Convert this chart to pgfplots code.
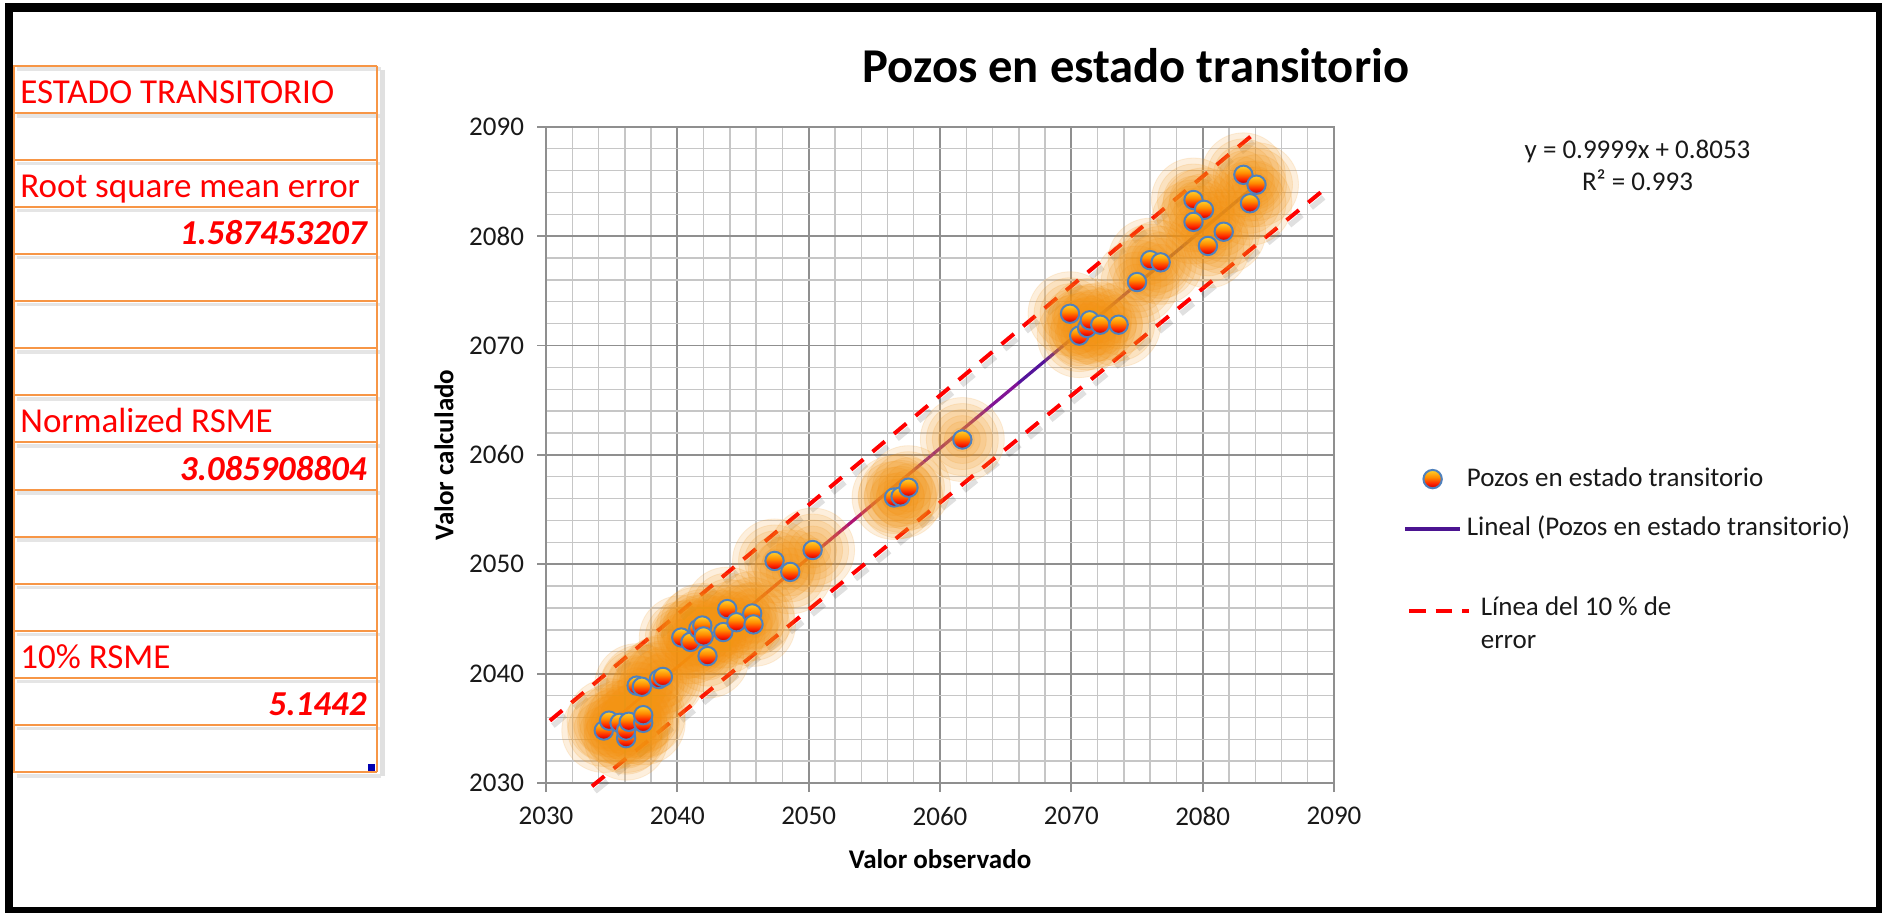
\documentclass[border=0pt]{standalone}
\usepackage{fontspec}
\setmainfont{Carlito}
\usepackage{pgfplots}
\usepackage{pgfplotstable}
\pgfplotsset{compat=1.18}

\definecolor{gridmaj}{RGB}{143,143,143}
\definecolor{gridmin}{RGB}{198,198,198}
\definecolor{glow}{RGB}{243,148,20}
\definecolor{markedge}{RGB}{79,129,189}
\definecolor{tabor}{RGB}{247,150,70}
\definecolor{errred}{RGB}{255,0,0}
\definecolor{trendpurple}{RGB}{75,20,145}
\definecolor{balldeep}{RGB}{200,0,0}
\definecolor{ballred}{RGB}{255,35,0}
\definecolor{ballorange}{RGB}{255,140,0}
\definecolor{ballyellow}{RGB}{255,205,40}
\definecolor{tr1}{RGB}{250,65,10}
\definecolor{tr2}{RGB}{225,20,50}
\definecolor{tr3}{RGB}{175,20,115}
\definecolor{tr4}{RGB}{130,20,150}
\definecolor{tr5}{RGB}{85,20,155}
\definecolor{tr6}{RGB}{40,20,140}

\pgfdeclareverticalshading{ballshade}{100bp}{%
  color(0bp)=(balldeep); color(27bp)=(balldeep); color(38bp)=(ballred);
  color(55bp)=(ballorange); color(73bp)=(ballyellow); color(100bp)=(ballyellow)}

\pgfdeclareplotmark{ball}{%
  \pgfpathcircle{\pgfpointorigin}{\pgfplotmarksize}%
  \pgfshadepath{ballshade}{0}%
  \pgfusepath{stroke}%
}

\pgfplotsset{
  ballleg/.style={legend image code/.code={%
     \path[draw=none,fill=none] (0pt,0pt) -- (27.5pt,0pt);
     \draw[##1] plot coordinates {(13.75pt,3.5pt)};}},
  lineleg/.style={legend image code/.code={%
     \draw[##1] (0pt,3.3pt) -- (27.5pt,3.3pt);}},
  dashleg/.style={legend image code/.code={%
     \path[draw=none,fill=none] (0pt,0pt) -- (27.5pt,0pt);
     \draw[##1, overlay] (2pt,2.2pt) -- (32pt,2.2pt);}},
  glowlayer/.style={only marks, mark=*, mark size=#1, forget plot,
     mark options={draw=glow, fill=glow, opacity=0.14}},
}

\pgfplotstableread{
x y
2034.4 2034.8
2034.8 2035.7
2035.6 2035.5
2036.1 2034.1
2036.1 2034.8
2036.3 2035.6
2037.4 2035.5
2037.4 2036.2
2036.9 2038.9
2037.3 2038.8
2038.6 2039.5
2038.9 2039.7
2040.3 2043.3
2041.0 2042.9
2041.6 2044.1
2041.9 2044.4
2042.0 2043.4
2042.3 2041.6
2043.5 2043.8
2043.8 2045.9
2044.5 2044.7
2045.7 2045.5
2045.8 2044.5
2047.4 2050.3
2048.6 2049.3
2050.3 2051.3
2056.5 2056.1
2057.0 2056.2
2057.6 2057.0
2061.7 2061.4
2069.9 2072.9
2070.6 2070.9
2071.2 2071.6
2071.4 2072.3
2072.2 2071.9
2073.6 2071.9
2075.0 2075.8
2076.0 2077.8
2076.8 2077.6
2079.3 2083.3
2080.1 2082.4
2079.3 2081.3
2081.6 2080.4
2080.4 2079.1
2083.1 2085.6
2084.1 2084.7
2083.6 2083.0
}\pozos

\newcommand{\chartfont}{\fontsize{13.5}{16}\selectfont}
\newcommand{\tabfont}{\fontsize{17.5}{20}\selectfont}

\begin{document}
\begin{tikzpicture}
\begin{scope}[x=0.5pt,y=-0.5pt]
  \path[use as bounding box] (0,0) rectangle (1882,913);
  \fill[white] (0,0) rectangle (1882,913);
  \fill[black] (5,3) rectangle (1882,913);
  \fill[white] (13,12.5) rectangle (1876,907);
  % table shadow
  \foreach \i in {0,...,15}{
    \draw[black!10, line width=1.8pt] (17,{65.7+47.1*\i+3.5}) -- (381,{65.7+47.1*\i+3.5});
  }
  \draw[black!12, line width=2.5pt] (382,70) -- (382,776);
  % table grid
  \foreach \i in {0,...,15}{
    \draw[tabor, line width=1pt] (13,{65.7+47.1*\i}) -- (377,{65.7+47.1*\i});
  }
  \draw[tabor, line width=1pt] (14,65.7) -- (14,772.2);
  \draw[tabor, line width=1pt] (377,65.7) -- (377,772.2);
  \fill[blue!70!black] (368,764) rectangle (375,771);
  % table texts
  \begin{scope}[every node/.style={inner sep=0pt, text=errred, font=\tabfont}]
    \node[anchor=base west] at (20,103.3) {ESTADO TRANSITORIO};
    \node[anchor=base west] at (20,197.5) {Root square mean error};
    \node[anchor=base east] at (367,244.6) {\bfseries\itshape 1.587453207};
    \node[anchor=base west] at (20,433.0) {Normalized RSME};
    \node[anchor=base east] at (367,480.1) {\bfseries\itshape 3.085908804};
    \node[anchor=base west] at (20,668.5) {10\% RSME};
    \node[anchor=base east] at (367,715.6) {\bfseries\itshape 5.1442};
  \end{scope}
  % title and equation
  \node[anchor=base, inner sep=0pt, font=\fontsize{24.3}{28}\selectfont\bfseries] at (1136,82.5) {Pozos en estado transitorio};
  \node[anchor=base, inner sep=0pt, font=\chartfont, text=black!90] at (1637.5,158.5) {y = 0.9999x + 0.8053};
  \node[anchor=base, inner sep=0pt, font=\chartfont, text=black!90] at (1637.5,190.3) {R² = 0.993};
\end{scope}

\begin{axis}[
  at={(273pt,-391.5pt)}, anchor=south west,
  scale only axis, width=394pt, height=328.15pt,
  xmin=2030, xmax=2090, ymin=2030, ymax=2090,
  xtick={2030,2040,...,2090}, ytick={2030,2040,...,2090},
  minor tick num=4,
  grid=both,
  major grid style={draw=gridmaj, line width=0.9pt},
  minor grid style={draw=gridmin, line width=0.7pt},
  axis line style={draw=gridmaj, line width=0.9pt},
  tick align=outside, tick pos=left,
  major tick length=4.5pt, minor tick length=0pt,
  major tick style={draw=gridmaj, line width=0.9pt},
  /pgf/number format/assume math mode=true,
  /pgf/number format/1000 sep={},
  tick label style={font=\chartfont, text=black!90},
  yticklabel style={xshift=-3pt},
  xticklabel style={yshift=-4pt},
  xlabel={Valor observado}, ylabel={Valor calculado},
  xlabel style={font=\chartfont\bfseries, at={(axis description cs:0.5,-0.1158)}, anchor=center},
  ylabel style={font=\chartfont\bfseries, at={(axis description cs:-0.1295,0.5)}, anchor=center},
  clip=false,
  legend style={at={(axis description cs:1.0876,0.4911)}, anchor=north west,
    draw=none, fill=none, inner sep=0pt, row sep=6.65pt, column sep=0.5pt,
    nodes={inner sep=2pt, text depth=3.5pt, font=\chartfont, text=black!90},
    cells={anchor=base west}},
]
% glow layers
\addplot[glowlayer=21pt] table {\pozos};
\addplot[glowlayer=18pt] table {\pozos};
\addplot[glowlayer=15pt] table {\pozos};
\addplot[glowlayer=12pt] table {\pozos};
\addplot[glowlayer=9pt] table {\pozos};
\addplot[glowlayer=6pt] table {\pozos};
% points
\addplot[only marks, mark=ball, mark size=4.6pt, mark options={draw=markedge, line width=1pt}, forget plot] table {\pozos};
% trend line (straight line, coloured in segments)
\addplot[forget plot, draw=tr1, line width=1.6pt, line cap=round] coordinates {(2034.4,2035.0) (2042,2042.6)};
\addplot[forget plot, draw=tr2, line width=1.6pt, line cap=round] coordinates {(2042,2042.6) (2050,2050.6)};
\addplot[forget plot, draw=tr3, line width=1.6pt, line cap=round] coordinates {(2050,2050.6) (2058,2058.6)};
\addplot[forget plot, draw=tr4, line width=1.6pt, line cap=round] coordinates {(2058,2058.6) (2066,2066.6)};
\addplot[forget plot, draw=tr5, line width=1.6pt, line cap=round] coordinates {(2066,2066.6) (2075,2075.6)};
\addplot[forget plot, draw=tr6, line width=1.6pt, line cap=round] coordinates {(2075,2075.6) (2084.1,2084.7)};
% error lines shadows
\addplot[forget plot, draw=black, opacity=0.12, line width=2.8pt, dash pattern=on 8pt off 6pt, xshift=1.5pt, yshift=-2.5pt]
  coordinates {(2030.3,2035.7) (2084.25,2089.7)};
\addplot[forget plot, draw=black, opacity=0.12, line width=2.8pt, dash pattern=on 8pt off 6pt, xshift=1.5pt, yshift=-2.5pt]
  coordinates {(2033.5,2029.7) (2089.6,2084.6)};
% error lines
\addplot[forget plot, draw=errred, line width=2pt, dash pattern=on 8pt off 6pt]
  coordinates {(2030.3,2035.7) (2084.25,2089.7)};
\addplot[forget plot, draw=errred, line width=2pt, dash pattern=on 8pt off 6pt]
  coordinates {(2033.5,2029.7) (2089.6,2084.6)};
% legend
\addlegendimage{ballleg, mark=ball, mark size=4.6pt, mark options={draw=markedge, line width=1pt}}
\addlegendentry{\rule{0pt}{10.5pt}Pozos en estado transitorio}
\addlegendimage{lineleg, draw=trendpurple, line width=1.7pt}
\addlegendentry{\rule{0pt}{10.5pt}Lineal (Pozos en estado transitorio)}
\addlegendimage{dashleg, draw=errred, line width=2pt, dash pattern=on 8.3pt off 5pt}
\addlegendentry{\hspace*{7pt}\parbox[t]{150pt}{\fontsize{13.5}{16.4}\selectfont\rule{0pt}{25.85pt}Línea del 10 \% de\\error}}
\end{axis}
\end{tikzpicture}
\end{document}
